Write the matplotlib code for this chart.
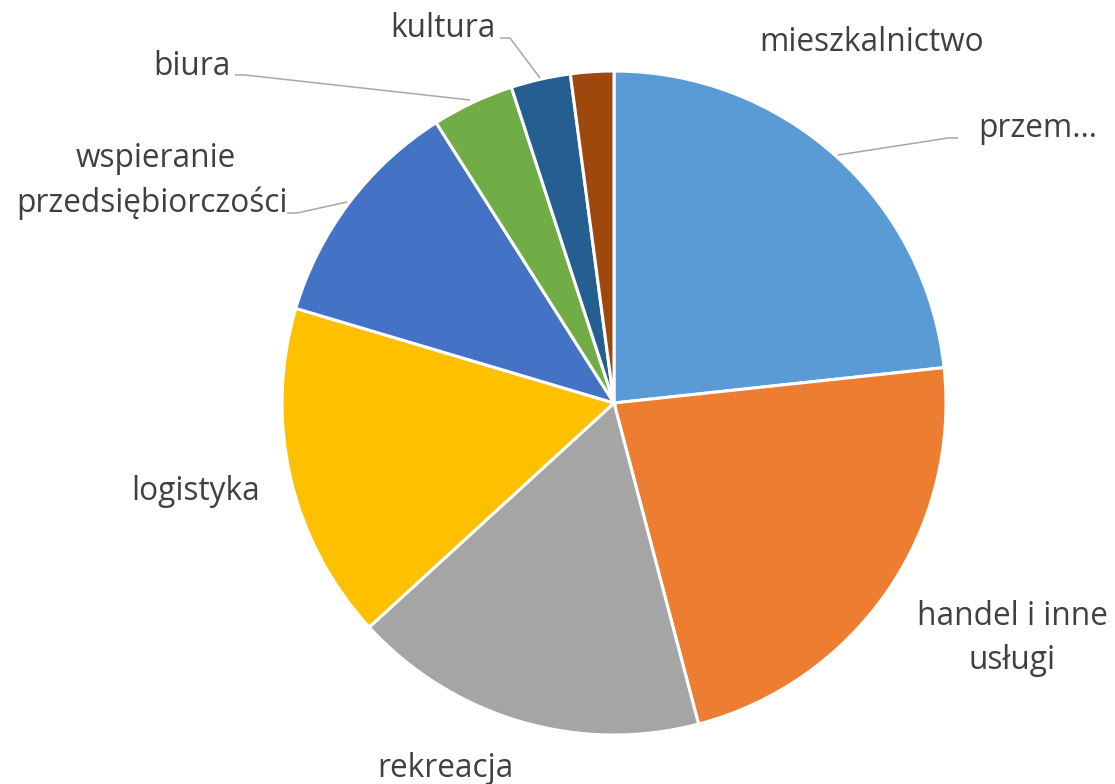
import matplotlib
matplotlib.use("Agg")
import matplotlib.pyplot as plt

# Data (shares), clockwise from 12 o'clock
categories = ["przem…", "handel i inne usługi", "rekreacja", "logistyka",
              "wspieranie przedsiębiorczości", "biura", "kultura", "mieszkalnictwo"]
values = [23.3, 22.6, 17.3, 16.4, 11.4, 4.0, 2.9, 2.1]
colors = ["#5B9BD5", "#ED7D31", "#A5A5A5", "#FFC000",
          "#4472C4", "#70AD47", "#255E91", "#9E480E"]

W, H = 1115, 784
fig = plt.figure(figsize=(W / 100, H / 100), dpi=100)
ax = fig.add_axes([0, 0, 1, 1])

cx, cy, r = 614, 403, 332  # image coords
ax.pie(values, colors=colors, startangle=90, counterclock=False,
       center=(cx, H - cy), radius=r,
       wedgeprops=dict(edgecolor="white", linewidth=2.2))
ax.set_xlim(0, W)
ax.set_ylim(0, H)
ax.set_aspect("equal")
ax.axis("off")

TXT = "#404040"
LINE = "#A6A6A6"
FS = 22.8
FONT = ["Open Sans", "DejaVu Sans"]


def txt(x, y, s, ha="center"):
    ax.text(x, H - y, s, ha=ha, va="baseline", fontsize=FS, color=TXT, family=FONT)


def lead(pts):
    xs = [p[0] for p in pts]
    ys = [H - p[1] for p in pts]
    ax.plot(xs, ys, color=LINE, lw=1.1, solid_capstyle="butt")


# labels
txt(872, 51, "mieszkalnictwo")
txt(978, 137, categories[0], ha="left")
txt(1012, 625, "handel i inne")
txt(1012, 669, "usługi")
txt(445, 777, categories[2])
txt(196, 500, categories[3])
txt(156, 167, "wspieranie")
txt(152, 212, "przedsiębiorczości")
txt(192, 75, categories[5])
txt(443, 37, categories[6])

# leader lines
lead([(838, 155), (948, 138), (958, 138)])
lead([(287, 213), (297, 213), (347, 202)])
lead([(235, 75), (245, 75), (470, 100)])
lead([(500, 38), (510, 38), (540, 78)])

fig.savefig("out.png", dpi=100, facecolor="white")
